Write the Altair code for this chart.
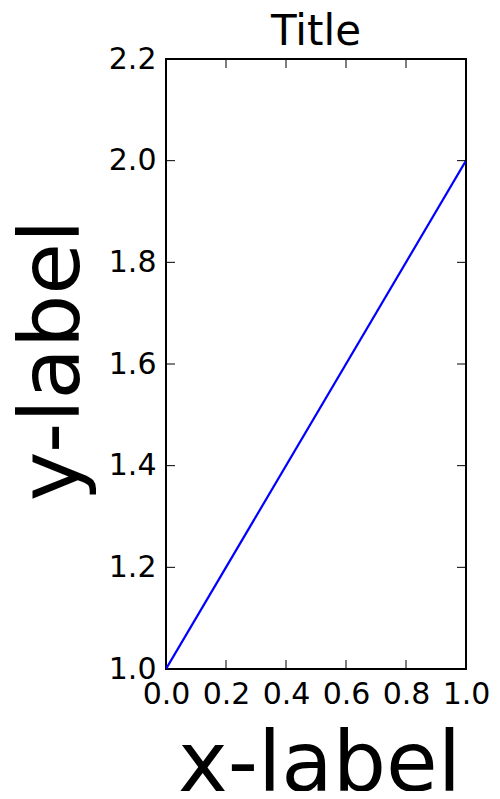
import altair as alt
import pandas as pd

# Data
x_vals = [0.0, 1.0]
y_vals = [1.0, 2.0]
x_ticks = [0.0, 0.2, 0.4, 0.6, 0.8, 1.0]
y_ticks = [1.0, 1.2, 1.4, 1.6, 1.8, 2.0, 2.2]
x_inner = [0.2, 0.4, 0.6, 0.8]
y_inner = [1.2, 1.4, 1.6, 1.8, 2.0]
title_text = ["Title"]

line_df = pd.DataFrame({"x": x_vals, "y": y_vals})
xt_df = pd.DataFrame({"x": x_inner})
yt_df = pd.DataFrame({"y": y_inner})
title_df = pd.DataFrame({"label": title_text})

FONT = "DejaVu Sans"
W, H = 300, 610
TL = 9

xscale = alt.Scale(domain=[0, 1], nice=False, zero=False)
yscale = alt.Scale(domain=[1.0, 2.2], nice=False, zero=False)

xaxis = alt.Axis(
    values=x_ticks, format=".1f", title="x-label", orient="bottom",
    ticks=False, tickSize=0, domain=False, grid=False,
    labelFontSize=30, labelPadding=10, labelColor="black", labelFont=FONT,
    labelFlush=False, labelOverlap=False,
    titleFontSize=84, titleFont=FONT, titleFontWeight="normal", titleColor="black",
    titleBaseline="alphabetic", titleAlign="center", titleX=W / 2 + 3, titleY=121,
)
yaxis = alt.Axis(
    values=y_ticks, format=".1f", title="y-label", orient="left",
    ticks=False, tickSize=0, domain=False, grid=False,
    labelFontSize=30, labelPadding=10, labelColor="black", labelFont=FONT,
    labelFlush=False, labelOverlap=False,
    titleFontSize=84, titleFont=FONT, titleFontWeight="normal", titleColor="black",
    titleBaseline="alphabetic", titleAlign="center", titleAngle=270,
    titleX=-88, titleY=H / 2 - 4,
)

X = alt.X("x:Q", scale=xscale, axis=xaxis, title="x-label")
Y = alt.Y("y:Q", scale=yscale, axis=yaxis, title="y-label")

line = alt.Chart(line_df).mark_line(color="#0000ff", strokeWidth=2.2, clip=True).encode(x=X, y=Y)

bottom_ticks = alt.Chart(xt_df).mark_rule(color="black", strokeWidth=1).encode(
    x=X, y=alt.value(H), y2=alt.value(H - TL),
)
top_ticks = alt.Chart(xt_df).mark_rule(color="black", strokeWidth=1).encode(
    x=X, y=alt.value(0), y2=alt.value(TL),
)
left_ticks = alt.Chart(yt_df).mark_rule(color="black", strokeWidth=1).encode(
    y=Y, x=alt.value(0), x2=alt.value(TL),
)
right_ticks = alt.Chart(yt_df).mark_rule(color="black", strokeWidth=1).encode(
    y=Y, x=alt.value(W), x2=alt.value(W - TL),
)

title_mark = alt.Chart(title_df).mark_text(
    font=FONT, fontSize=42, color="black", align="center", baseline="alphabetic",
).encode(
    text="label:N", x=alt.value(W / 2), y=alt.value(-14),
)

chart = alt.layer(line, bottom_ticks, top_ticks, left_ticks, right_ticks, title_mark).properties(
    width=W,
    height=H,
    autosize=alt.AutoSizeParams(type="none"),
    padding={"left": 158, "top": 51, "right": 26, "bottom": 122},
).configure(font=FONT).configure_view(stroke="black", strokeWidth=2)

chart.save("out.html", embed_options={"renderer": "svg", "actions": False})
